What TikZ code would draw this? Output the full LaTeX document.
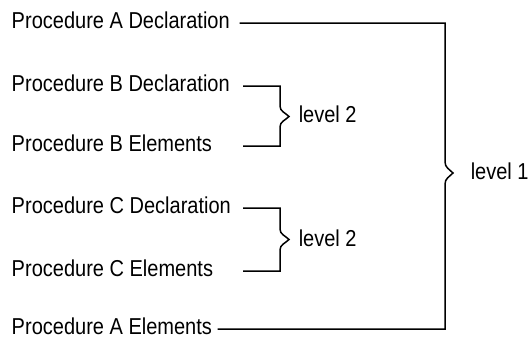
\documentclass[tikz,border=0pt]{standalone}
\usepackage{fontspec}
\setmainfont{Liberation Sans}[FakeStretch=0.87]
\usetikzlibrary{positioning}

\begin{document}
\begin{tikzpicture}[x=1pt, y=-1pt, line width=1.5pt,
    proc/.style={anchor=base west, inner sep=0pt, font=\fontsize{23}{26}\selectfont},
    lvl/.style={anchor=west, inner sep=0pt, font=\fontsize{23}{26}\selectfont}
    ]
    \useasboundingbox (0,0) rectangle (530,338);

    \node[proc] (ad) at (11,28)  {Procedure A Declaration};
    \node[proc] (bd) at (11,91)  {Procedure B Declaration};
    \node[proc] (be) at (11,151) {Procedure B Elements};
    \node[proc] (cd) at (11,213) {Procedure C Declaration};
    \node[proc] (ce) at (11,276) {Procedure C Elements};
    \node[proc] (ae) at (11,334) {Procedure A Elements};

    \coordinate (bx) at (243,0);
    \coordinate (tb) at (289,116.5);
    \coordinate (tc) at (289,239.5);
    \coordinate (ta) at (453,173);

    \node[lvl] (lb) [right=9pt of tb, yshift=2pt]  {level 2};
    \node[lvl] (lc) [right=9pt of tc, yshift=1pt]  {level 2};
    \node[lvl] (la) [right=17pt of ta, yshift=2pt] {level 1};

    \draw ([yshift=5pt]bd.base -| bx) -| (280,106)
        to[out=-90, in=135] (tb) to[out=-135, in=90] (280,127)
        |- ([yshift=5pt]be.base -| bx);
    \draw ([yshift=5pt]cd.base -| bx) -| (280,229)
        to[out=-90, in=135] (tc) to[out=-135, in=90] (280,250)
        |- ([yshift=5pt]ce.base -| bx);
    \draw ([xshift=9pt, yshift=5pt]ad.base east) -| (445,162)
        to[out=-90, in=135] (ta) to[out=-135, in=90] (445,184)
        |- ([xshift=5pt, yshift=5pt]ae.base east);
\end{tikzpicture}
\end{document}
